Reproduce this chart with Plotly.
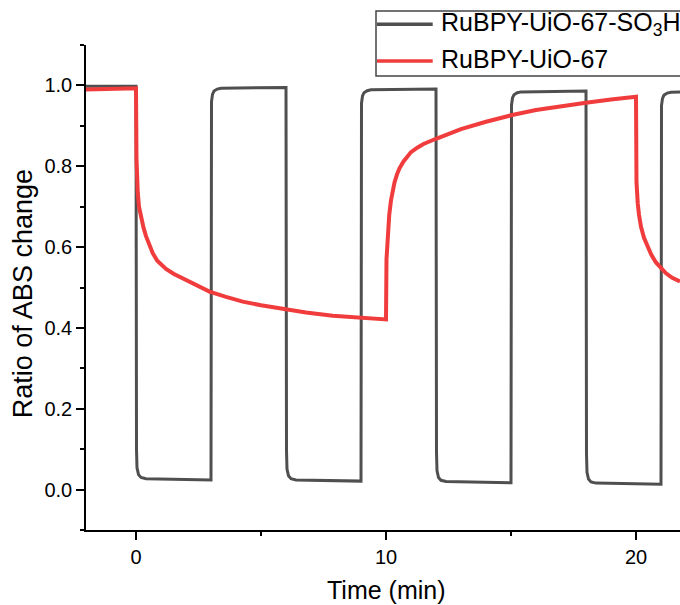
import plotly.graph_objects as go

# ---- data ----
so3h_name = "RuBPY-UiO-67-SO<sub>3</sub>H"
so3h_t = [-2.0, -1.0,
          0.00, 0.02, 0.04, 0.10, 0.20, 0.40, 1.50, 2.98,
          3.00, 3.02, 3.06, 3.12, 3.25, 3.40, 4.50, 5.98,
          6.00, 6.02, 6.04, 6.10, 6.20, 6.40, 7.50, 8.98,
          9.00, 9.02, 9.06, 9.12, 9.25, 9.40, 10.50, 11.98,
          12.00, 12.02, 12.04, 12.10, 12.20, 12.40, 13.50, 14.98,
          15.00, 15.02, 15.06, 15.12, 15.25, 15.40, 16.50, 17.98,
          18.00, 18.02, 18.04, 18.10, 18.20, 18.40, 19.50, 20.98,
          21.00, 21.02, 21.06, 21.12, 21.25, 21.40, 21.76]
so3h_v = [0.998, 0.998,
          0.998, 0.099, 0.054, 0.037, 0.030, 0.027, 0.025, 0.024,
          0.024, 0.960, 0.978, 0.986, 0.991, 0.993, 0.994, 0.995,
          0.995, 0.096, 0.051, 0.034, 0.027, 0.024, 0.022, 0.021,
          0.021, 0.956, 0.974, 0.982, 0.987, 0.989, 0.990, 0.991,
          0.991, 0.092, 0.047, 0.030, 0.023, 0.020, 0.018, 0.017,
          0.017, 0.951, 0.969, 0.977, 0.982, 0.984, 0.985, 0.986,
          0.986, 0.088, 0.043, 0.026, 0.019, 0.016, 0.014, 0.013,
          0.013, 0.950, 0.968, 0.976, 0.981, 0.983, 0.984]

uio_name = "RuBPY-UiO-67"
uio_t = [-2.0, -1.0, 0.00, 0.02, 0.04, 0.07, 0.12, 0.20, 0.30, 0.40, 0.53, 0.67, 0.85,
         1.00, 1.20, 1.50, 1.87, 2.40, 2.94,
         3.60, 4.27, 5.00, 5.87, 6.80, 7.87, 8.90, 9.94, 10.00,
         10.02, 10.05, 10.08, 10.13, 10.20, 10.27, 10.34, 10.44, 10.54, 10.70, 10.85,
         11.00, 11.25, 11.50, 12.00, 13.00, 14.00,
         15.00, 16.00, 17.00, 18.00, 19.00, 20.00,
         20.02, 20.04, 20.07, 20.12, 20.20, 20.32, 20.47, 20.62, 20.80, 21.00, 21.20,
         21.45, 21.76]
uio_v = [0.990, 0.991, 0.993, 0.817, 0.775, 0.735, 0.700, 0.672, 0.648, 0.627, 0.605, 0.585, 0.566,
         0.556, 0.546, 0.534, 0.523, 0.505, 0.490,
         0.477, 0.465, 0.456, 0.447, 0.438, 0.430, 0.425, 0.421, 0.421,
         0.570, 0.610, 0.638, 0.680, 0.716, 0.742, 0.760, 0.780, 0.795, 0.812, 0.825,
         0.835, 0.846, 0.855, 0.868, 0.892, 0.910,
         0.926, 0.939, 0.949, 0.957, 0.965, 0.972,
         0.760, 0.732, 0.708, 0.680, 0.650, 0.623, 0.600, 0.580, 0.562, 0.547, 0.535,
         0.524, 0.515]

x_range = [-2, 21.76]
y_range = [-0.1, 1.1]
x_title = "Time (min)"
y_title = "Ratio of ABS change"

gray = "#4F4F4F"
red = "#F03C3C"
font_family = "Liberation Sans, Arial, sans-serif"

fig = go.Figure()
fig.add_trace(go.Scatter(x=so3h_t, y=so3h_v, mode="lines", name=so3h_name,
                         line=dict(color=gray, width=3), showlegend=False))
fig.add_trace(go.Scatter(x=uio_t, y=uio_v, mode="lines", name=uio_name,
                         line=dict(color=red, width=4), showlegend=False))

axis_common = dict(showgrid=False, zeroline=False, showline=True, linecolor="black",
                   linewidth=1.5, ticks="outside", ticklen=8, tickwidth=1.5,
                   tickcolor="black", tickfont=dict(size=20, color="black", family=font_family))

fig.update_xaxes(range=x_range, tick0=0, dtick=10,
                 minor=dict(dtick=5, tick0=0, ticks="outside", ticklen=4, tickwidth=1.5, tickcolor="black"),
                 **axis_common)
fig.update_yaxes(range=y_range, tick0=0, dtick=0.2, tickformat=".1f",
                 minor=dict(dtick=0.1, tick0=0, ticks="outside", ticklen=4, tickwidth=1.5, tickcolor="black"),
                 **axis_common)

L, R, T, B = 86, 0, 45, 75
W, H = 680, 605
pw, ph = W - L - R, H - T - B

def px_x(x):
    return (x - L) / pw

def px_y(y):
    return (H - B - y) / ph

shapes = [
    dict(type="rect", xref="paper", yref="paper", x0=px_x(376), x1=1.3, y0=px_y(76), y1=px_y(11),
         line=dict(color="#444444", width=1.5), fillcolor="white", layer="above"),
    dict(type="line", xref="paper", yref="paper", x0=px_x(377), x1=px_x(432.7), y0=px_y(24.3), y1=px_y(24.3),
         line=dict(color=gray, width=3.5)),
    dict(type="line", xref="paper", yref="paper", x0=px_x(377), x1=px_x(432.7), y0=px_y(61), y1=px_y(61),
         line=dict(color=red, width=3.5)),
]

annotations = [
    dict(text=so3h_name, xref="paper", yref="paper", x=px_x(439), y=px_y(24.5),
         xanchor="left", yanchor="middle", showarrow=False,
         font=dict(size=25, color="black", family=font_family)),
    dict(text=uio_name, xref="paper", yref="paper", x=px_x(439), y=px_y(59),
         xanchor="left", yanchor="middle", showarrow=False,
         font=dict(size=25, color="black", family=font_family)),
    dict(text=x_title, xref="paper", yref="paper", x=px_x(386), y=px_y(590),
         xanchor="center", yanchor="middle", showarrow=False,
         font=dict(size=25, color="black", family=font_family)),
    dict(text=y_title, xref="paper", yref="paper", x=px_x(22.5), y=px_y(293.7),
         xanchor="center", yanchor="middle", showarrow=False, textangle=-90,
         font=dict(size=27, color="black", family=font_family)),
]

fig.update_layout(width=W, height=H, margin=dict(l=L, r=R, t=T, b=B),
                  plot_bgcolor="white", paper_bgcolor="white",
                  shapes=shapes, annotations=annotations,
                  font=dict(family=font_family))

fig.write_html("out.html")
